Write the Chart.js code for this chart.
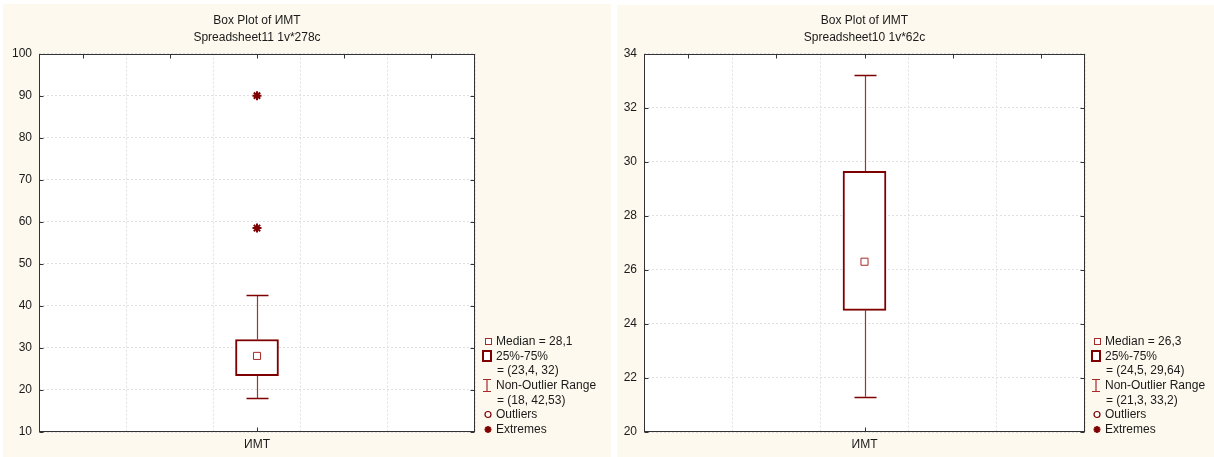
<!DOCTYPE html>
<html>
<head>
<meta charset="utf-8">
<script src="https://cdn.jsdelivr.net/npm/chart.js@4.4.1/dist/chart.umd.min.js"></script>
<style>
  html, body { margin: 0; padding: 0; background: #ffffff; }
  body { width: 1214px; height: 457px; position: relative; overflow: hidden;
         font-family: "Liberation Sans", Arial, sans-serif; }
  .panel { position: absolute; background: #fdf9ee; }
  .panel canvas { position: absolute; left: 0; top: 0; }
  .legend { position: absolute; font-size: 12px; color: #1a1a1a; line-height: 14.7px; }
  .legend .row { position: relative; height: 14.7px; white-space: nowrap; }
  .legend svg { position: absolute; top: 0; }
  .legend span { position: absolute; }
</style>
</head>
<body>
<div class="panel" id="p1" style="left:3px;top:4px;width:608px;height:453px;">
  <canvas id="c1" width="608" height="453"></canvas>
</div>
<div class="panel" id="p2" style="left:617px;top:5px;width:597px;height:452px;">
  <canvas id="c2" width="597" height="452"></canvas>
</div>
<script>
// Variable name shown on the x axis
const categoryLabel = 'ИМТ';

// Sheet 11 (278 cases)
const titleLeft = ['Box Plot of ИМТ', 'Spreadsheet11 1v*278c'];
const medianLeft = 28.1;
const quartilesLeft = [23.4, 32];
const rangeLeft = [18, 42.53];
const extremesLeft = [90, 58.5];
const yTicksLeft = [10, 100, 10];          // min, max, step
const legendLeft = ['Median = 28,1', '25%-75%', '= (23,4, 32)', 'Non-Outlier Range', '= (18, 42,53)', 'Outliers', 'Extremes'];

// Sheet 10 (62 cases)
const titleRight = ['Box Plot of ИМТ', 'Spreadsheet10 1v*62c'];
const medianRight = 26.3;
const quartilesRight = [24.5, 29.64];
const rangeRight = [21.3, 33.2];
const extremesRight = [];
const yTicksRight = [20, 34, 2];
const legendRight = ['Median = 26,3', '25%-75%', '= (24,5, 29,64)', 'Non-Outlier Range', '= (21,3, 33,2)', 'Outliers', 'Extremes'];

const DARK_RED = '#7f0000';
const WHISKER = '#9a3535';
const FONT = '"Liberation Sans", Arial, sans-serif';

// White plotting area inside the cream panel
const plotBgPlugin = {
  id: 'plotBg',
  beforeDraw(chart) {
    const { ctx, chartArea: a } = chart;
    ctx.save();
    ctx.fillStyle = '#ffffff';
    ctx.fillRect(a.left, a.top, a.right - a.left, a.bottom - a.top);
    ctx.restore();
  }
};

// Whiskers drawn from the non-outlier range through the chart scales
const whiskerPlugin = {
  id: 'whiskers',
  beforeDatasetsDraw(chart, args, opts) {
    const { ctx, scales: { x, y } } = chart;
    const cx = Math.round(x.getPixelForValue(2)) + 0.5;
    const [lo, hi] = opts.range;
    const [q1, q3] = opts.quartiles;
    ctx.save();
    ctx.strokeStyle = WHISKER;
    ctx.lineWidth = 1.2;
    ctx.beginPath();
    ctx.moveTo(cx, y.getPixelForValue(hi));
    ctx.lineTo(cx, y.getPixelForValue(q3));
    ctx.moveTo(cx, y.getPixelForValue(q1));
    ctx.lineTo(cx, y.getPixelForValue(lo));
    ctx.stroke();
    ctx.strokeStyle = DARK_RED;
    ctx.lineWidth = 1.3;
    ctx.beginPath();
    [lo, hi].forEach(v => {
      const py = Math.round(y.getPixelForValue(v)) + 0.5;
      ctx.moveTo(cx - 11, py);
      ctx.lineTo(cx + 11, py);
    });
    ctx.stroke();
    ctx.restore();
  }
};

// Plot frame with short inward ticks
const framePlugin = {
  id: 'frame',
  afterDraw(chart) {
    const { ctx, chartArea: a, scales: { x, y } } = chart;
    ctx.save();
    ctx.strokeStyle = '#333333';
    ctx.lineWidth = 1;
    const L = Math.round(a.left) + 0.5, R = Math.round(a.right) - 0.5;
    const T = Math.round(a.top) + 0.5, B = Math.round(a.bottom) - 0.5;
    ctx.strokeRect(L, T, R - L, B - T);
    ctx.beginPath();
    y.ticks.forEach(t => {
      const py = Math.round(y.getPixelForValue(t.value)) + 0.5;
      ctx.moveTo(L, py); ctx.lineTo(L + 4, py);
      ctx.moveTo(R, py); ctx.lineTo(R - 4, py);
    });
    x.ticks.forEach(t => {
      const px = Math.round(x.getPixelForValue(t.value)) + 0.5;
      ctx.moveTo(px, T); ctx.lineTo(px, T + 4);
      if (t.value === 2) { ctx.moveTo(px, B); ctx.lineTo(px, B - 4); }
    });
    ctx.stroke();
    ctx.restore();
  }
};

function makeChart(id, cfg) {
  const [ymin, ymax, ystep] = cfg.yTicks;
  return new Chart(document.getElementById(id), {
    type: 'bar',
    data: {
      datasets: [
        {
          type: 'bar',
          data: [{ x: 2, y: cfg.quartiles }],
          barThickness: 43,
          backgroundColor: '#ffffff',
          borderColor: DARK_RED,
          borderWidth: 2,
          borderSkipped: false,
          order: 3
        },
        {
          type: 'line',
          showLine: false,
          data: [{ x: 2, y: cfg.median }],
          pointStyle: 'rect',
          pointRadius: 5,
          pointBackgroundColor: '#ffffff',
          pointBorderColor: '#a52a2a',
          pointBorderWidth: 1,
          order: 1
        },
        {
          type: 'line',
          showLine: false,
          data: cfg.extremes.map(v => ({ x: 2, y: v })),
          pointStyle: 'star',
          pointRadius: 4.5,
          pointBackgroundColor: DARK_RED,
          pointBorderColor: DARK_RED,
          pointBorderWidth: 2,
          order: 0
        }
      ]
    },
    options: {
      responsive: false,
      animation: false,
      events: [],
      layout: { padding: { left: 0, right: cfg.padRight, top: 0, bottom: 0 } },
      plugins: {
        legend: { display: false },
        tooltip: { enabled: false },
        title: {
          display: true,
          text: cfg.title,
          fullSize: false,
          color: '#1a1a1a',
          font: { family: FONT, size: 12, weight: 'normal', lineHeight: 1.4 },
          padding: { top: cfg.titleTop, bottom: cfg.titleBottom }
        },
        whiskers: { range: cfg.range, quartiles: cfg.quartiles }
      },
      scales: {
        x: {
          type: 'linear',
          min: 0, max: 4,
          afterFit: s => { s.height = 25; },
          grid: { color: '#e0e0e0', drawTicks: false, lineWidth: 1 },
          border: { display: false, dash: [2, 2] },
          ticks: {
            stepSize: 1,
            padding: 5,
            color: '#1a1a1a',
            font: { family: FONT, size: 12 },
            callback: v => (v === 2 ? categoryLabel : '')
          }
        },
        y: {
          min: ymin, max: ymax,
          afterFit: s => { s.width = cfg.axisWidth; },
          grid: { color: '#e0e0e0', drawTicks: false, lineWidth: 1 },
          border: { display: false, dash: [2, 2] },
          ticks: {
            stepSize: ystep,
            padding: 7,
            color: '#1a1a1a',
            font: { family: FONT, size: 12 }
          }
        }
      }
    },
    plugins: [plotBgPlugin, whiskerPlugin, framePlugin]
  });
}

makeChart('c1', {
  title: titleLeft, median: medianLeft, quartiles: quartilesLeft, range: rangeLeft,
  extremes: extremesLeft, yTicks: yTicksLeft, padRight: 136, axisWidth: 36,
  titleTop: 8, titleBottom: 8
});
makeChart('c2', {
  title: titleRight, median: medianRight, quartiles: quartilesRight, range: rangeRight,
  extremes: extremesRight, yTicks: yTicksRight, padRight: 129, axisWidth: 27,
  titleTop: 7, titleBottom: 8
});

// Legend blocks beside each plot
function symbol(i) {
  const c = DARK_RED;
  switch (i) {
    case 0: return `<svg width="10" height="14" style="left:-13px"><rect x="2.5" y="4.5" width="6" height="6" fill="#fff" stroke="#a52a2a" stroke-width="1"/></svg>`;
    case 1: return `<svg width="12" height="14" style="left:-15px"><rect x="2" y="2" width="8" height="10" fill="#fff" stroke="${c}" stroke-width="2"/></svg>`;
    case 3: return `<svg width="12" height="16" style="left:-15px"><path d="M2 1.5H10M6 1.5V13.5M2 13.5H10" stroke="#a52a2a" stroke-width="1.2" fill="none"/></svg>`;
    case 5: return `<svg width="10" height="14" style="left:-13px"><circle cx="5" cy="7.5" r="3" fill="#fff" stroke="${c}" stroke-width="1.2"/></svg>`;
    case 6: return `<svg width="10" height="14" style="left:-13px"><path d="M1.5 7.5H8.5M5 4V11M2.5 5L7.5 10M7.5 5L2.5 10" stroke="${c}" stroke-width="1.8" fill="none"/></svg>`;
    default: return '';
  }
}
function buildLegend(panelId, lines, left, top) {
  const box = document.createElement('div');
  box.className = 'legend';
  box.style.left = left + 'px';
  box.style.top = top + 'px';
  lines.forEach((txt, i) => {
    const row = document.createElement('div');
    row.className = 'row';
    const indent = (i === 2 || i === 4) ? 1 : 0;
    row.innerHTML = symbol(i) + `<span style="left:${indent}px">${txt}</span>`;
    box.appendChild(row);
  });
  document.getElementById(panelId).appendChild(box);
}
buildLegend('p1', legendLeft, 493, 330);
buildLegend('p2', legendRight, 488, 329);
</script>
</body>
</html>
